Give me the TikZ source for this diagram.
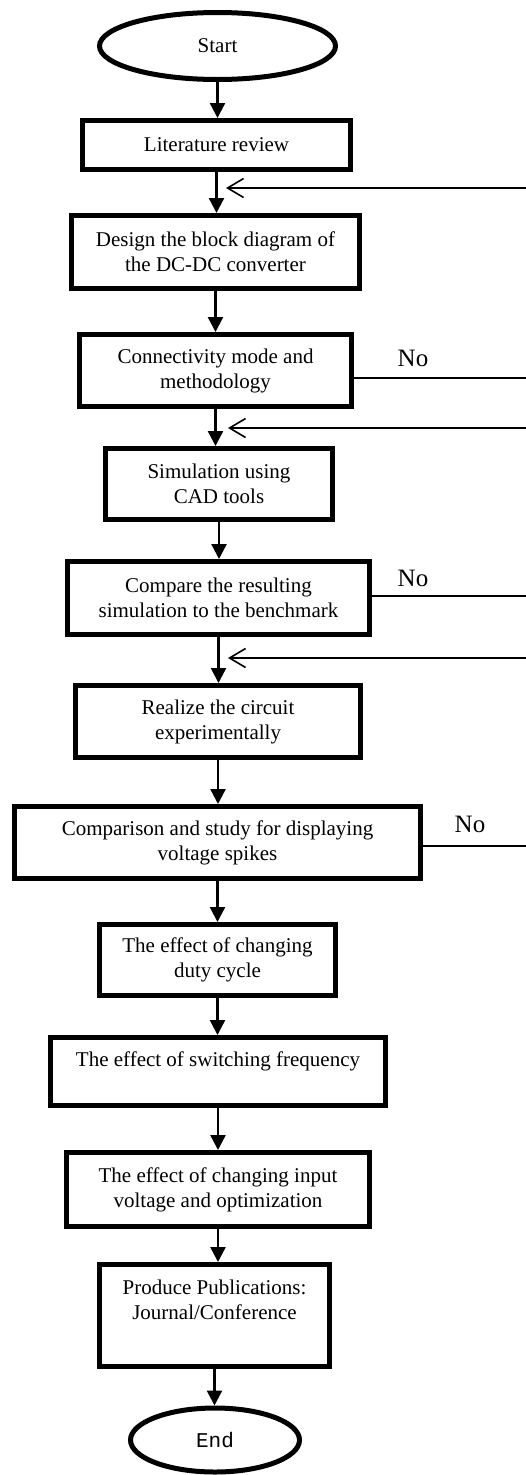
\documentclass[tikz,border=0pt]{standalone}
\usepackage{fontspec}
\setmainfont{Liberation Serif}
\newfontfamily\monofam{Liberation Mono}
\usetikzlibrary{arrows.meta,shapes.geometric}
\begin{document}
\begin{tikzpicture}[x=1pt,y=-1pt,
  txt/.style={font=\fontsize{21}{25}\selectfont},
  box/.style={draw, line width=5pt, inner sep=0pt, align=center, txt},
  term/.style={draw, ellipse, line width=5pt, inner sep=0pt, txt},
  flow/.style={line width=2.4pt, -{Triangle[length=15pt,width=15pt]}},
  back/.style={line width=1.6pt, -{Straight Barb[length=16pt,width=19pt]}},
  noline/.style={line width=1.6pt},
  nolab/.style={font=\fontsize{25}{28}\selectfont, inner sep=0pt}
]
\useasboundingbox (0,0) rectangle (526,1475);

\node[term, minimum width=236pt, minimum height=67pt] (start) at (217.5,46) {Start};
\node[box, minimum width=268pt, minimum height=49pt] (lit) at (216.5,145) {Literature review};
\node[box, minimum width=288pt, minimum height=73pt] (design) at (215.5,252) {Design the block diagram of\\the DC-DC converter};
\node[box, minimum width=272pt, minimum height=72pt] (conn) at (215.5,370.5) {Connectivity mode and\\methodology};
\node[box, minimum width=227pt, minimum height=71pt] (sim) at (219,484) {Simulation using\\CAD tools};
\node[box, minimum width=302pt, minimum height=73pt] (cmp) at (218.5,598) {Compare the resulting\\simulation to the benchmark};
\node[box, minimum width=285pt, minimum height=72pt] (real) at (218,721.5) {Realize the circuit\\experimentally};
\node[box, minimum width=406pt, minimum height=72pt] (spk) at (217.5,842.5) {Comparison and study for displaying\\voltage spikes};
\node[box, minimum width=236pt, minimum height=71pt] (duty) at (217.5,960) {The effect of changing\\duty cycle};
\node[box, minimum width=335pt, minimum height=68pt] (sw) at (218,1071.5) {The effect of switching frequency\\[-8pt]\strut};
\node[box, minimum width=303pt, minimum height=74pt] (inp) at (218,1189.5) {The effect of changing input\\voltage and optimization};
\node[box, minimum width=230pt, minimum height=102pt] (pub) at (214.5,1315.5) {Produce Publications:\\Journal/Conference\\\strut};
\node[term, minimum width=169pt, minimum height=64pt] (end) at (215,1440) {\monofam End};

\draw[flow] (start.south) -- (start.south |- lit.north);
\draw[flow] (lit.south) -- (lit.south |- design.north);
\draw[flow] (design.south) -- (design.south |- conn.north);
\draw[flow] (conn.south) -- (conn.south |- sim.north);
\draw[flow] (sim.south) -- (sim.south |- cmp.north);
\draw[flow] (cmp.south) -- (cmp.south |- real.north);
\draw[flow] (real.south) -- (real.south |- spk.north);
\draw[flow] (spk.south) -- (spk.south |- duty.north);
\draw[flow] (duty.south) -- (duty.south |- sw.north);
\draw[flow] (sw.south) -- (sw.south |- inp.north);
\draw[flow] (inp.south) -- (inp.south |- pub.north);
\draw[flow] (pub.south) -- (pub.south |- end.north);

\coordinate (fb1) at (226,188); \coordinate (fb1e) at (526,188);
\coordinate (fb2) at (228,428); \coordinate (fb2e) at (526,428);
\coordinate (fb3) at (228,658); \coordinate (fb3e) at (526,658);
\draw[back] (fb1e) -- (fb1);
\draw[back] (fb2e) -- (fb2);
\draw[back] (fb3e) -- (fb3);

\coordinate (no1) at (526,378);
\coordinate (no2) at (526,596);
\coordinate (no3) at (526,846);
\draw[noline] (conn.east |- no1) -- (no1);
\draw[noline] (cmp.east |- no2) -- (no2);
\draw[noline] (spk.east |- no3) -- (no3);
\node[nolab] (nolab1) at (413,358.5) {No};
\node[nolab] (nolab2) at (413,578.5) {No};
\node[nolab] (nolab3) at (470,824) {No};
\end{tikzpicture}
\end{document}
